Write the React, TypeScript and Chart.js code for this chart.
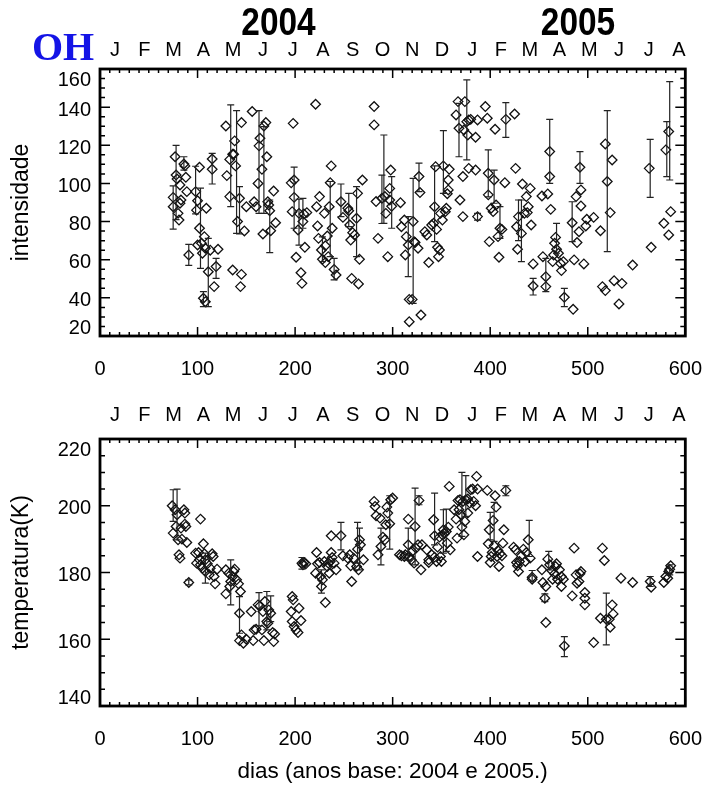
import React, { useEffect, useRef } from 'react';
import { Chart, registerables } from 'chart.js';
Chart.register(...registerables);

const FONT = '"Liberation Sans", Arial, Helvetica, sans-serif';

// ---- axis / label data ----
const monthLetters = ['J','F','M','A','M','J','J','A','S','O','N','D','J','F','M','A','M','J','J','A'];
const monthStarts = [0,31,60,91,121,152,182,213,244,274,305,335,366,397,425,456,486,517,547,578,609];
const yearLabels = ['2004', '2005'];
const yearDays = [183, 490];
const xTicks = [0, 100, 200, 300, 400, 500, 600];
const intTicks = [20, 40, 60, 80, 100, 120, 140, 160];
const tempTicks = [140, 160, 180, 200, 220];

// ---- OH intensity (top panel) ----
const intDays = [
  75,75,77,78,79,80,81,82,82,83,
  86,87,88,89,91,98,99,100,102,102,
  100,105,104,107,108,106,108,109,111,113,
  115,115,119,117,121,129,130,133,133,136,
  137,138,139,136,141,143,145,145,144,148,
  150,156,158,160,162,163,164,166,167,168,
  170,171,172,173,174,175,178,180,196,197,
  198,199,199,201,203,204,206,207,208,209,
  210,212,221,222,223,224,225,227,228,230,
  231,231,233,234,235,236,237,238,240,242,
  247,249,254,255,256,257,258,259,261,263,
  264,265,266,269,281,281,283,285,289,292,
  293,295,297,298,297,299,308,309,312,313,
  314,316,317,317,320,321,322,323,326,327,
  328,329,333,335,337,340,342,343,344,345,
  346,347,348,349,351,352,354,355,356,357,
  357,358,365,367,368,369,372,372,373,374,
  376,377,378,378,380,385,385,387,387,395,
  397,398,398,399,401,403,404,405,406,408,
  409,410,412,415,416,425,426,427,428,429,
  432,433,435,437,438,439,441,442,444,444,
  453,454,457,457,459,461,461,462,464,465,
  466,467,468,470,472,473,475,476,484,485,
  486,488,489,491,492,493,493,496,498,499,
  506,513,515,518,518,520,523,525,527,532,
  535,546,563,565,578,580,583,583,585
];
const intValues = [
  92.7,87.8,114,104.4,102.3,84.3,80.8,89.6,99.2,91.3,
  110.2,109.2,103.2,95.7,62.5,95.7,86,90.9,108.5,76.5,
  67.7,63.4,68.6,72.1,66,39.8,38,87,53.7,65,
  112.8,107.4,56.4,45.9,65.5,130.1,104.1,112.6,93.1,115.3,
  115.3,122.3,109.2,54.6,80,92.2,131.9,52.3,45.9,75.1,
  87.8,137.7,90.4,87.8,100,119.7,123.7,107.4,73.5,130.1,
  131.9,114,90.4,88.7,85.7,75.2,96,79.4,100.3,85.2,
  131.5,101.8,92.7,61.3,75.6,84.3,53.2,47.6,80,84,
  66.5,84.7,141.5,87.8,77.7,71.2,93.1,65.1,60.2,84.3,
  67.3,58.5,72.4,61.6,87.8,100.4,109.2,76.5,54.9,52,
  90.4,82.2,87,85.7,78.2,70.3,50.2,74.2,73,81.7,
  94.8,47.3,60.2,101.8,140.3,130.7,90.5,71.2,92.2,93.1,
  84.3,61.6,97.4,107,91.3,88,89.9,77.3,80.8,62.5,
  72.1,67.7,39.2,27.5,39.2,80,69.5,69,66,103.6,
  95.2,31,74.7,73,58.5,78.2,79.1,87.8,108.8,75.9,
  66.5,61.6,65.1,84.3,80.8,109.2,85.2,87,94.6,96.6,
  101.8,107.4,135.9,142.9,128.9,91.3,103.6,82.6,128,142.9,
  132.4,125.4,133.3,107.9,133.6,124.2,107,133.3,82.6,140.3,
  134.2,105.3,94,69.5,87,85.2,101.8,128.4,88.7,72.1,
  61.3,76.5,75.9,100.4,133.6,136.4,107.9,77.3,65.5,82.6,
  73.8,99.7,84.3,93.1,84.7,87.8,97.4,78.2,57.8,46.2,
  93.4,61.6,51.1,45.9,94.5,116.7,103.6,86.4,59,62.5,
  68.6,71.7,65.5,63.4,58.1,54.3,59,40.3,79.4,34,
  59.9,93.1,69,74.7,108.5,96.6,88.2,57.8,77.7,81.2,
  82.2,75.2,45.9,43.8,120.7,101,84.7,112.3,49,36.8,
  47.6,57.2,107.9,66.5,79.1,117.6,127.2,73,85.2
];
const intBarDays = [
  75,78,86,91,98,103,106,111,115,119,
  134,140,143,163,168,174,199,204,208,228,
  236,240,247,255,263,289,291,299,316,321,
  327,343,352,368,376,387,398,404,410,416,
  429,432,444,457,461,468,476,484,492,520,
  564,581,584
];
const intBarLow = [
  76,81,107,57,84,55.5,35.4,35.4,99.7,50.2,
  87.8,73.8,73.5,84.3,84.3,63.7,76.5,67.7,76.5,59,
  61.6,49.4,82.6,77.3,61.6,79,79.1,76.5,51.1,37.1,
  95.7,69.5,94.8,114,112.3,80.8,93,89.6,71.2,124.2,
  70,59,41.5,43.3,100,63.4,35.4,69.5,100,64.2,
  92.7,103.6,101.8
];
const intBarHigh = [
  98.7,120,114,68,109,97.5,43.3,71.2,115.8,60.7,
  141.2,138.2,98.3,138.2,129.8,91.3,108.5,91.7,92.2,72,
  101,60.7,99.7,94.8,98.3,104.4,125.4,103.6,82.6,102.7,
  110.6,109.2,127.7,142,154.3,84.3,117.6,107,87.8,142.4,
  91.3,91.3,50.2,60.7,133.6,79.1,45,90.4,116.7,138.2,
  123.1,132.4,153.4
];

// ---- OH temperature (bottom panel) ----
const tempDays = [
  74,75,77,78,79,80,81,82,83,84,
  86,87,87,88,89,91,98,99,101,102,
  103,103,105,106,107,108,108,110,112,113,
  115,116,117,118,120,129,129,132,133,134,
  136,137,138,140,142,143,143,144,145,147,
  150,155,157,158,160,162,164,166,167,168,
  169,171,172,173,175,177,178,179,196,197,
  197,198,199,201,203,204,206,207,208,209,
  211,221,222,223,225,226,227,228,230,231,
  233,234,235,236,237,237,238,240,242,247,
  249,254,256,257,258,260,263,264,265,266,
  267,270,281,282,283,285,287,288,290,292,
  293,294,295,297,298,300,307,309,312,313,
  316,316,317,319,320,322,323,324,326,327,
  329,330,335,337,337,340,342,343,343,345,
  346,348,349,350,351,352,353,355,356,357,
  358,359,363,365,366,367,368,369,370,371,
  372,373,374,375,377,377,379,380,382,383,
  385,386,387,387,397,398,399,400,401,402,
  403,404,405,406,407,408,409,410,412,413,
  414,416,424,426,427,428,429,430,432,434,
  436,437,439,441,443,443,453,454,456,457,
  457,459,461,463,464,466,467,468,469,471,
  473,473,475,476,484,486,488,489,491,492,
  493,497,497,497,506,513,515,517,519,522,
  523,525,526,534,546,564,565,578,580,582,
  583,584,585
];
const tempValues = [
  200,191.8,198.8,193.8,197.3,189.8,185.3,184.3,193.3,190,
  198.8,194.5,197.8,193.8,189,177,185.8,182.8,186,183.8,
  196,182.3,181.3,188.6,185.6,183.8,180.3,182.6,179.3,181.3,
  185.6,184.8,178.8,176.6,181,180.8,173.6,179.8,175.8,177.3,
  178.8,180.3,181,177.8,176.6,167.8,159.6,174.3,161.3,158.8,
  160,168.3,159.6,162.8,163,170.3,170,162.8,168.3,159.6,
  171.3,165.3,164.8,168.8,167.8,162,159.3,161.6,168.3,172.8,
  165.3,171.8,163.8,162.8,162,169.3,165.6,182.8,182.3,183,
  182.6,179.8,186,182.6,183,178.8,175.8,177.8,183.3,171,
  181.8,182.8,179.8,183.3,191,186,184.5,182.8,180.8,191,
  185,184.3,185.3,182,177.3,184.3,181.8,187,180.8,189.8,
  188.3,183.8,201.3,199.8,197,185.3,196.3,187.8,190.6,189.8,
  194.3,199.6,197.8,194.6,201.8,202.3,185.3,185,184.8,185.3,
  196,188.3,184.8,183.8,186.3,182.8,193.8,187.3,188.3,201.6,
  180.8,188.3,186.8,183.8,183,185.3,195.8,191,184.6,183.3,
  187.6,190.6,184.8,183.3,191.3,192.8,191.6,192.3,188.8,193.6,
  205.8,186.8,198.8,196,190.3,201.6,198.8,201.8,197.3,193.6,
  201.3,191.3,195.3,201.8,197.8,202,200.8,204.8,205,201.3,
  200,208.8,205,184.8,204.6,188.6,192.8,183,184.8,186,
  195.6,188,203,199.6,184.8,186.6,181.8,185.6,185,188.8,
  192.8,204.6,187.6,186.8,183,182,180.3,183.3,185,187,
  183.3,186,189.8,184.3,178.6,178,180.8,177,172.3,175.8,
  165,184,182.3,180.6,178,179.6,181.8,182.6,178,180.8,
  178.8,175.8,178,158,173,187.3,179.3,176.8,177.3,179.6,
  180.3,174,172.3,170.3,159,166.3,187.3,183.6,166,166,
  163.6,170.3,167.6,178.3,177,177.3,175.6,177,178.8,178.3,
  180.3,181,182
];
const tempBarDays = [
  75,79,91,108,134,143,163,171,175,207,
  227,247,264,266,288,297,316,323,327,343,
  352,355,371,375,400,404,416,440,443,456,
  460,476,519,564,584
];
const tempBarLow = [
  195.3,189.8,176.3,176.8,170.3,161.8,164,162.8,165.3,181,
  173.8,186.8,182.8,180.8,182.3,187,183.8,182.3,200.3,188.3,
  185.8,186.3,190.8,196.8,189.8,189.3,203,184.8,177.3,171.3,
  180.8,154.8,158.3,175.8,179.3
];
const tempBarHigh = [
  204.8,205,177.8,185.8,183.8,172.8,174,174.3,173,184.5,
  180.8,195,195,193.3,193.3,203,193.3,205.3,203,203.8,
  198.8,199,210,209,198,201,206,195.6,180.6,173.6,
  186.3,160.8,173.8,178.8,182.3
];

type PanelCfg = {
  barDays: number[]; barLow: number[]; barHigh: number[];
  yMinorStep: number; yMajorStep: number; monthY: number; top: boolean;
};

function panelPlugin(cfg: PanelCfg) {
  return {
    id: 'panelDecor',
    afterDatasetsDraw(chart: any) {
      const { ctx, scales: { x, y } } = chart;
      ctx.save();
      ctx.strokeStyle = '#222';
      ctx.lineWidth = 1.2;
      for (let i = 0; i < cfg.barDays.length; i++) {
        const px = x.getPixelForValue(cfg.barDays[i]);
        const y1 = y.getPixelForValue(cfg.barLow[i]);
        const y2 = y.getPixelForValue(cfg.barHigh[i]);
        ctx.beginPath();
        ctx.moveTo(px, y1); ctx.lineTo(px, y2);
        ctx.moveTo(px - 3.5, y1); ctx.lineTo(px + 3.5, y1);
        ctx.moveTo(px - 3.5, y2); ctx.lineTo(px + 3.5, y2);
        ctx.stroke();
      }
      ctx.restore();
    },
    afterDraw(chart: any) {
      const { ctx, chartArea: { left, right, top, bottom }, scales: { x, y } } = chart;
      ctx.save();
      ctx.strokeStyle = '#000';
      ctx.lineWidth = 1.5;
      // inward ticks on x borders
      ctx.beginPath();
      for (let d = 0; d <= 600; d += 10) {
        const px = x.getPixelForValue(d);
        const len = d % 100 === 0 ? 9 : 4;
        ctx.moveTo(px, bottom); ctx.lineTo(px, bottom - len);
        ctx.moveTo(px, top); ctx.lineTo(px, top + len);
      }
      for (let v = y.min; v <= y.max + 0.001; v += cfg.yMinorStep) {
        const py = y.getPixelForValue(v);
        const len = Math.abs((v - y.min) % cfg.yMajorStep) < 0.001 ? 10 : 5;
        ctx.moveTo(left, py); ctx.lineTo(left + len, py);
        ctx.moveTo(right, py); ctx.lineTo(right - len, py);
      }
      ctx.stroke();
      // frame
      ctx.lineWidth = 2.8;
      ctx.strokeRect(left, top, right - left, bottom - top);

      // y tick labels (IDL style: end labels pulled inside)
      ctx.fillStyle = '#000';
      ctx.font = `20px ${FONT}`;
      ctx.textAlign = 'right';
      ctx.textBaseline = 'middle';
      const ticks = y.ticks;
      ticks.forEach((t: any, i: number) => {
        let py = y.getPixelForValue(t.value) + 3;
        if (i === 0) py -= 11;
        if (i === ticks.length - 1) py += 8;
        ctx.fillText(String(t.value), left - 9, py);
      });

      // month letters
      ctx.textAlign = 'center';
      ctx.font = `20px ${FONT}`;
      for (let i = 0; i < monthLetters.length; i++) {
        const mid = (monthStarts[i] + monthStarts[i + 1]) / 2;
        ctx.fillText(monthLetters[i], x.getPixelForValue(mid), cfg.monthY);
      }

      if (cfg.top) {
        ctx.font = `bold 38px ${FONT}`;
        ctx.textBaseline = 'alphabetic';
        for (let i = 0; i < yearLabels.length; i++) {
          const px = x.getPixelForValue(yearDays[i]);
          ctx.save();
          ctx.translate(px, 35);
          ctx.scale(0.88, 1);
          ctx.fillText(yearLabels[i], 0, 0);
          ctx.restore();
        }
        ctx.fillStyle = '#1414e6';
        ctx.font = `bold 40px "Liberation Serif", "Times New Roman", serif`;
        ctx.textAlign = 'left';
        ctx.fillText('OH', 32, 60);
      }
      ctx.restore();
    }
  };
}

function makeConfig(opts: {
  days: number[]; values: number[]; yMin: number; yMax: number; yTicks: number[];
  yTitle: string; xTitle: string | null; padTop: number; xAxisHeight: number; panel: PanelCfg;
}) {
  const tickFont = { family: FONT, size: 20 };
  return {
    type: 'scatter' as const,
    data: {
      datasets: [{
        data: opts.days.map((d, i) => ({ x: d, y: opts.values[i] })),
        pointStyle: 'rectRot',
        pointRadius: 4.8,
        pointBorderWidth: 1.3,
        pointBorderColor: '#111',
        pointBackgroundColor: 'rgba(0,0,0,0)',
        showLine: false,
      }],
    },
    options: {
      animation: false as const,
      responsive: false,
      devicePixelRatio: 1,
      events: [] as any[],
      layout: { padding: { top: opts.padTop, right: 21, left: 0, bottom: 0 } },
      plugins: { legend: { display: false }, tooltip: { enabled: false } },
      scales: {
        x: {
          type: 'linear' as const,
          min: 0, max: 600,
          afterBuildTicks: (ax: any) => { ax.ticks = xTicks.map((v) => ({ value: v })); },
          grid: { display: false, drawTicks: false },
          border: { display: false },
          ticks: { padding: 21, font: tickFont, color: '#000', maxRotation: 0, autoSkip: false },
          title: opts.xTitle
            ? { display: true, text: opts.xTitle, color: '#000', font: { family: FONT, size: 22.5 }, padding: { top: 0, bottom: 2 } }
            : { display: false },
          afterFit: (ax: any) => { ax.height = opts.xAxisHeight; },
        },
        y: {
          type: 'linear' as const,
          min: opts.yMin, max: opts.yMax,
          afterBuildTicks: (ax: any) => { ax.ticks = opts.yTicks.map((v) => ({ value: v })); },
          grid: { display: false, drawTicks: false },
          border: { display: false },
          ticks: { display: false },
          title: { display: true, text: opts.yTitle, color: '#000', font: { family: FONT, size: 23 }, padding: { top: 8, bottom: 0 } },
          afterFit: (ax: any) => { ax.width = 100; },
        },
      },
    },
    plugins: [panelPlugin(opts.panel)],
  };
}

export default function App() {
  const topRef = useRef<HTMLCanvasElement>(null);
  const botRef = useRef<HTMLCanvasElement>(null);

  useEffect(() => {
    const c1 = new Chart(topRef.current as HTMLCanvasElement, makeConfig({
      days: intDays, values: intValues, yMin: 20, yMax: 160, yTicks: intTicks,
      yTitle: 'intensidade', xTitle: null, padTop: 69, xAxisHeight: 56,
      panel: { barDays: intBarDays, barLow: intBarLow, barHigh: intBarHigh, yMinorStep: 5, yMajorStep: 20, monthY: 50, top: true },
    }) as any);
    const c2 = new Chart(botRef.current as HTMLCanvasElement, makeConfig({
      days: tempDays, values: tempValues, yMin: 140, yMax: 220, yTicks: tempTicks,
      yTitle: 'temperatura(K)', xTitle: 'dias (anos base: 2004 e 2005.)', padTop: 47, xAxisHeight: 81,
      panel: { barDays: tempBarDays, barLow: tempBarLow, barHigh: tempBarHigh, yMinorStep: 5, yMajorStep: 20, monthY: 23, top: false },
    }) as any);
    return () => { c1.destroy(); c2.destroy(); };
  }, []);

  return (
    <div style={{ position: 'absolute', left: 0, top: 0, width: 723, height: 787, background: '#fff' }}>
      <canvas ref={topRef} width={723} height={392} style={{ position: 'absolute', left: 0, top: 0, width: 723, height: 392 }} />
      <canvas ref={botRef} width={723} height={395} style={{ position: 'absolute', left: 0, top: 392, width: 723, height: 395 }} />
    </div>
  );
}
